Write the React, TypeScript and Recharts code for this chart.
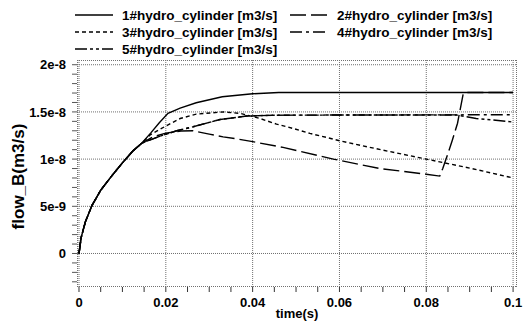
import React from 'react';
import { LineChart, Line, XAxis, YAxis, Legend } from 'recharts';

// flow values are in units of 1e-9 m3/s
const xTicks = [0, 0.005, 0.01, 0.015, 0.02, 0.025, 0.03, 0.035, 0.04, 0.045, 0.05, 0.055, 0.06, 0.065, 0.07, 0.075, 0.08, 0.085, 0.09, 0.095, 0.1];
const xMajor = [0, 0.02, 0.04, 0.06, 0.08, 0.1];
const xMajorLabels = ['0', '0.02', '0.04', '0.06', '0.08', '0.1'];
const yTicks = [-3, -2, -1, 0, 1, 2, 3, 4, 5, 6, 7, 8, 9, 10, 11, 12, 13, 14, 15, 16, 17, 18, 19, 20];
const yMajor = [0, 5, 10, 15, 20];
const yMajorLabels = ['0', '5e-9', '1e-8', '1.5e-8', '2e-8'];
const xDomain = [-0.00046, 0.1009];
const yDomain = [-3.55, 20.5];

// shared start-up part, all cylinders identical
const riseT = [0, 0.0005, 0.0015, 0.003, 0.005, 0.0075, 0.01, 0.0125, 0.0145];
const riseV = [0, 1.7, 3.4, 5.1, 6.7, 8.2, 9.6, 10.9, 11.7];

const s1T = [...riseT, 0.0165, 0.0185, 0.0205, 0.0233, 0.027, 0.033, 0.04, 0.046, 0.1];
const s1V = [...riseV, 12.75, 13.85, 14.85, 15.4, 15.97, 16.6, 16.92, 17.05, 17.05];

const s2T = [...riseT, 0.017, 0.02, 0.0235, 0.0263, 0.03, 0.0332, 0.0363, 0.04, 0.047, 0.0586, 0.0693, 0.08, 0.0831, 0.0838, 0.085, 0.086, 0.0872, 0.0885, 0.089, 0.1];
const s2V = [...riseV, 12.35, 12.75, 12.98, 13.0, 12.65, 12.35, 12.15, 11.85, 11.24, 10.0, 9.0, 8.4, 8.2, 9.0, 10.6, 12.0, 13.8, 16.9, 17.05, 17.05];

const s3T = [...riseT, 0.0165, 0.02, 0.0233, 0.027, 0.0332, 0.0371, 0.04, 0.0417, 0.0455, 0.0493, 0.0532, 0.057, 0.06, 0.07, 0.08, 0.09, 0.1];
const s3V = [...riseV, 12.6, 13.5, 14.3, 14.77, 15.0, 14.85, 14.5, 14.3, 13.71, 13.25, 12.72, 12.3, 11.94, 10.95, 10.0, 9.05, 8.0];

const s4T = [...riseT, 0.0187, 0.0225, 0.0263, 0.0325, 0.0386, 0.045, 0.06, 0.1];
const s4V = [...riseV, 12.43, 13.0, 13.43, 14.2, 14.56, 14.65, 14.67, 14.7];

const s5T = [...riseT, 0.0187, 0.0225, 0.0263, 0.0325, 0.0386, 0.045, 0.06, 0.087, 0.0915, 0.0954, 0.1];
const s5V = [...riseV, 12.43, 13.0, 13.43, 14.2, 14.56, 14.65, 14.67, 14.67, 14.3, 14.14, 13.93];

const seriesNames = [
  '1#hydro_cylinder [m3/s]',
  '2#hydro_cylinder [m3/s]',
  '3#hydro_cylinder [m3/s]',
  '4#hydro_cylinder [m3/s]',
  '5#hydro_cylinder [m3/s]',
];

const toPoints = (t: number[], v: number[]) => t.map((x, i) => ({ t: x, v: v[i] }));

const series = [
  { name: seriesNames[0], data: toPoints(s1T, s1V), dash: undefined },
  { name: seriesNames[1], data: toPoints(s2T, s2V), dash: '16 5' },
  { name: seriesNames[2], data: toPoints(s3T, s3V), dash: '4 3' },
  { name: seriesNames[3], data: toPoints(s4T, s4V), dash: '12 4 3 4' },
  { name: seriesNames[4], data: toPoints(s5T, s5V), dash: '12 3 3 3 3 3' },
];

// dotted grid + frame, drawn as two-point lines through the chart scales
const gridLines = [
  ...[xDomain[0], ...xMajor, xDomain[1]].map((x, i, arr) => ({
    key: 'gx' + i,
    edge: i === 0 || i === arr.length - 1,
    data: [{ t: x, v: yDomain[0] }, { t: x, v: yDomain[1] }],
  })),
  ...[yDomain[0], ...yMajor, yDomain[1]].map((y, i, arr) => ({
    key: 'gy' + i,
    edge: i === 0 || i === arr.length - 1,
    data: [{ t: xDomain[0], v: y }, { t: xDomain[1], v: y }],
  })),
];

const FONT = '"Liberation Sans", Arial, sans-serif';
const GRID = '#707070';

const findLabel = (value: number, majors: number[], labels: string[], tol: number) => {
  const i = majors.findIndex((m) => Math.abs(m - value) < tol);
  return i >= 0 ? labels[i] : null;
};

const XTick = (props: any) => {
  const { x, y, payload } = props;
  const label = findLabel(payload.value, xMajor, xMajorLabels, 1e-6);
  if (!label) return null;
  return (
    <text x={x} y={y} dy="0.71em" textAnchor="middle" fontFamily={FONT} fontWeight="bold" fontSize={13} fill="#000">
      {label}
    </text>
  );
};

const YTick = (props: any) => {
  const { x, y, payload } = props;
  const label = findLabel(payload.value, yMajor, yMajorLabels, 1e-6);
  if (!label) return null;
  return (
    <text x={x} y={y} dy="0.355em" textAnchor="end" fontFamily={FONT} fontWeight="bold" fontSize={13} fill="#000">
      {label}
    </text>
  );
};

const XLabel = (props: any) => {
  const vb = props.viewBox;
  return (
    <text x={vb.x + vb.width / 2} y={vb.y + 26} dominantBaseline="central" textAnchor="middle" fontFamily={FONT} fontWeight="bold" fontSize={13} fill="#000">
      time(s)
    </text>
  );
};

const YLabel = (props: any) => {
  const vb = props.viewBox;
  const cx = vb.x + 1;
  const cy = vb.y + vb.height / 2 + 3;
  return (
    <text x={cx} y={cy} transform={`rotate(-90 ${cx} ${cy})`} dominantBaseline="central" textAnchor="middle" fontFamily={FONT} fontWeight="bold" fontSize={17} fill="#000">
      flow_B(m3/s)
    </text>
  );
};

const legendCols = [
  { lx: 75, tx: 122 },
  { lx: 290, tx: 337 },
];
const legendRows = [15, 32, 49];

const renderLegend = () => (
  <svg width={529} height={60} style={{ display: 'block' }}>
    {series.map((s, i) => {
      const col = legendCols[i % 2];
      const y = legendRows[Math.floor(i / 2)];
      return (
        <g key={s.name}>
          <line x1={col.lx} x2={col.lx + 38} y1={y} y2={y} stroke="#000" strokeWidth={1.4} strokeDasharray={s.dash} />
          <text x={col.tx} y={y} dominantBaseline="central" fontFamily={FONT} fontWeight="bold" fontSize={13.5} fill="#000">
            {s.name}
          </text>
        </g>
      );
    })}
  </svg>
);

const App = () => {
  return (
    <div style={{ position: 'absolute', left: 0, top: 0, background: '#fff' }}>
      <LineChart width={529} height={328} margin={{ top: 0, right: 12, left: 17, bottom: 11 }}>
        <Legend
          verticalAlign="top"
          align="left"
          content={renderLegend}
          wrapperStyle={{ top: 0, left: 0, width: 529, height: 60 }}
        />
        <XAxis
          dataKey="t"
          type="number"
          domain={xDomain}
          allowDataOverflow
          ticks={xTicks}
          interval={0}
          axisLine={false}
          tickLine={{ stroke: '#333' }}
          tickSize={5}
          tickMargin={6}
          tick={<XTick />}
          height={30}
          label={<XLabel />}
        />
        <YAxis
          type="number"
          domain={yDomain}
          allowDataOverflow
          ticks={yTicks}
          interval={0}
          axisLine={false}
          tickLine={{ stroke: '#555' }}
          tickSize={5}
          tickMargin={6}
          tick={<YTick />}
          width={60}
          label={<YLabel />}
        />
        {gridLines.map((g) => (
          <Line
            key={g.key}
            data={g.data}
            dataKey="v"
            type="linear"
            stroke={GRID}
            strokeWidth={g.edge ? 2 : 1}
            strokeDasharray="1 1"
            dot={false}
            activeDot={false}
            legendType="none"
            isAnimationActive={false}
          />
        ))}
        {series.map((s) => (
          <Line
            key={s.name}
            data={s.data}
            dataKey="v"
            name={s.name}
            type="linear"
            stroke="#000"
            strokeWidth={1.4}
            strokeDasharray={s.dash}
            dot={false}
            activeDot={false}
            isAnimationActive={false}
          />
        ))}
      </LineChart>
    </div>
  );
};

export default App;
